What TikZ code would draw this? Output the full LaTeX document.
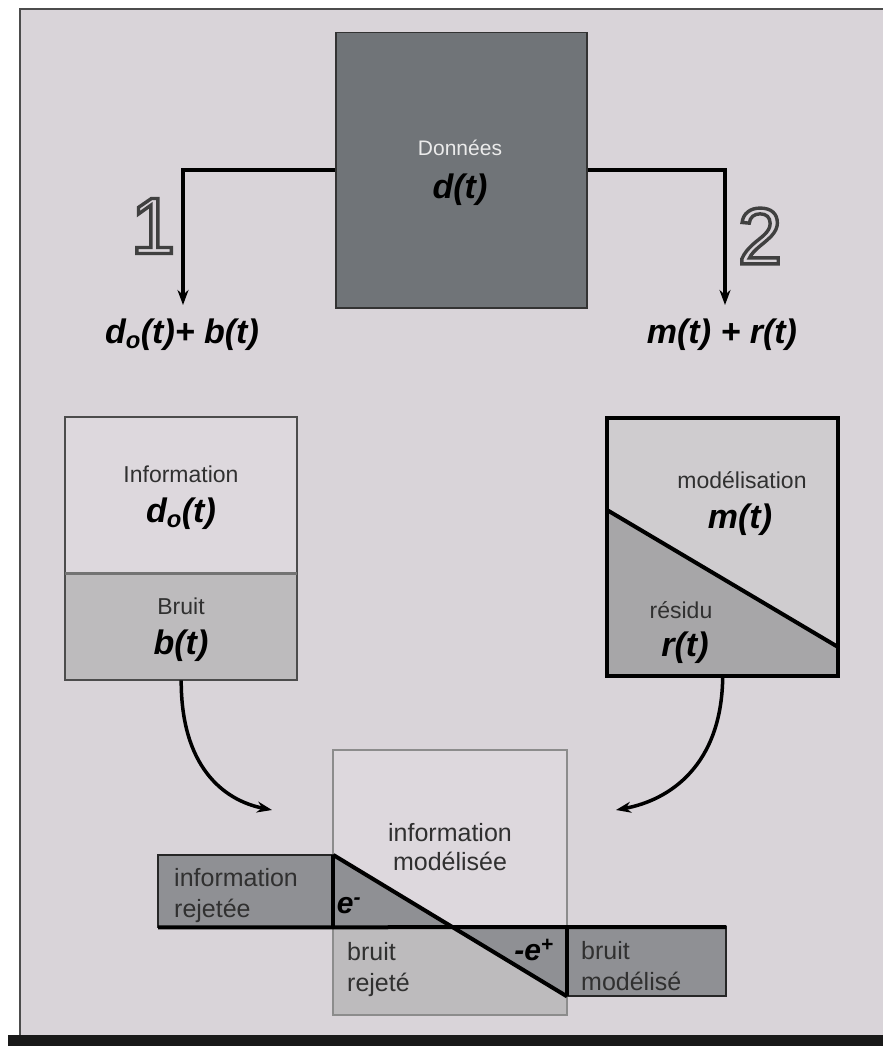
\documentclass[tikz,border=0pt]{standalone}
\usepackage{fontspec}
\setmainfont{Liberation Sans}
\usetikzlibrary{arrows.meta}
\definecolor{bgc}{HTML}{D9D4D9}
\definecolor{datac}{HTML}{707478}
\definecolor{lightc}{HTML}{DDD8DD}
\definecolor{stipc}{HTML}{BDBBBD}
\definecolor{rupc}{HTML}{CFCCCF}
\definecolor{rlowc}{HTML}{A7A6A8}
\definecolor{bandc}{HTML}{8F9094}
\definecolor{txtc}{HTML}{303030}
\newcommand{\outlinedigit}[1]{\textcolor{bgc}{\special{pdf:literal direct 2 Tr 3.4 w 0.25 0.25 0.25 RG}#1\special{pdf:literal direct 0 Tr}}}
\tikzset{
  conn/.style={line width=4pt, black},
  arr/.style={-{Stealth[length=15pt,width=11pt]}},
  small/.style={font=\fontsize{23}{27}\selectfont, text=txtc, inner sep=0pt},
  lab/.style={font=\fontsize{25}{31}\selectfont, text=txtc, inner sep=0pt, align=left, anchor=west},
  big/.style={font=\fontsize{34}{38}\selectfont\bfseries\itshape, inner sep=0pt},
  boxn/.style={rectangle, inner sep=0pt, anchor=north west},
}
\begin{document}
\begin{tikzpicture}[x=1pt,y=-1pt]
\useasboundingbox (0,0) rectangle (883,1046);
\fill[white] (0,0) rectangle (883,1046);
% frame
\fill[bgc] (20,9) rectangle (883,1035);
\draw[line width=2pt, black!70] (20,1035) -- (20,9) -- (883,9);
\fill[black!90] (8,1035) rectangle (883,1046);

% data box
\node[boxn, draw=black!80, line width=1.5pt, fill=datac, minimum width=251pt, minimum height=275pt] (data) at (335,32) {};
\node[font=\fontsize{21}{25}\selectfont, text=black!8, inner sep=0pt] (donnees) at (460,148) {Données};
\node[big] (dt) at (460,190) {d(t)};

% labels and connectors
\node[big] (lbl1) at (182,335) {d\textsubscript{o}(t)+ b(t)};
\node[big] (lbl2) at (722,335) {m(t) + r(t)};
\coordinate (t1) at (183,305);
\coordinate (t2) at (725,305);
\draw[conn, arr] (data.west) -| (t1);
\draw[conn, arr] (data.east) -| (t2);
\node[font=\fontsize{80}{80}\selectfont, inner sep=0pt] (n1) at (153,226) {\outlinedigit{1}};
\node[font=\fontsize{80}{80}\selectfont, inner sep=0pt] (n2) at (760,236) {\outlinedigit{2}};

% left box
\node[boxn, fill=lightc, minimum width=232pt, minimum height=156pt] (info) at (65,417) {};
\node[boxn, fill=stipc, minimum width=232pt, minimum height=107pt] (bruit) at (65,573) {};
\draw[line width=2pt, black!70] (info.north west) rectangle (bruit.south east);
\draw[line width=3pt, black!55] (info.south west) -- (info.south east);
\node[small] (tinfo) at (181,474) {Information};
\node[big] (tdo) at (181,514) {d\textsubscript{o}(t)};
\node[small] (tbruit) at (181,606) {Bruit};
\node[big] (tbt) at (181,646) {b(t)};

% right box
\node[boxn, fill=rupc, minimum width=231pt, minimum height=258pt] (rbox) at (607,418) {};
\fill[rlowc] (607,510) -- (838,647) -- (838,676) -- (607,676) -- cycle;
\draw[line width=4pt] (607,510) -- (838,647);
\draw[line width=4pt] (rbox.north west) rectangle (rbox.south east);
\node[small] (tmod) at (742,480) {modélisation};
\node[big] (tmt) at (740,520) {m(t)};
\node[small] (tres) at (681,610) {résidu};
\node[big] (trt) at (685,648) {r(t)};

% curved arrows
\coordinate (lt) at (272,810);
\coordinate (rt) at (616,810);
\draw[line width=3.5pt, arr] (bruit.south) .. controls (181,765) and (222,800) .. (lt);
\draw[line width=3.5pt, arr] (rbox.south) .. controls (722,765) and (670,800) .. (rt);

% bottom center
\node[boxn, fill=lightc, minimum width=234pt, minimum height=265pt] (cbox) at (333,750) {};
\fill[stipc] (333,927) -- (453,927) -- (567,995) -- (567,1015) -- (333,1015) -- cycle;
\draw[line width=2pt, black!45] (cbox.north west) rectangle (cbox.south east);
\node[boxn, fill=bandc, minimum width=175pt, minimum height=72pt] (lband) at (158,855) {};
\node[boxn, fill=bandc, minimum width=159pt, minimum height=69pt] (rband) at (567,927) {};
\draw[line width=2pt, black!85] (lband.north west) rectangle (lband.south east);
\draw[line width=2pt, black!85] (rband.north west) rectangle (rband.south east);
\coordinate (mid) at (453,927);
\fill[bandc] (lband.north east) -- (mid) -- (lband.south east) -- cycle;
\fill[bandc] (mid) -- (rband.north west) -- (rband.south west) -- cycle;
\draw[line width=4pt] (lband.north east) -- (lband.south east);
\draw[line width=4pt] (rband.north west) -- (rband.south west);
\draw[line width=4pt] (lband.south west) -- (rband.north east);
\draw[line width=4pt] (lband.north east) -- (rband.south west);

\node[font=\fontsize{25}{29}\selectfont, text=txtc, align=center, inner sep=0pt] (tim) at (450,847) {information\\modélisée};
\node[lab] (tir) at (174,896) {information\\rejetée};
\node[lab] (tbr) at (347,970) {bruit\\rejeté};
\node[lab] (tbm) at (581,966) {bruit\\modélisé};
\node[font=\fontsize{30}{34}\selectfont\bfseries\itshape, inner sep=0pt] (em) at (349,906) {e\textsuperscript{-}};
\node[font=\fontsize{30}{34}\selectfont\bfseries\itshape, inner sep=0pt] (ep) at (534,950) {-e\textsuperscript{+}};
\end{tikzpicture}
\end{document}
